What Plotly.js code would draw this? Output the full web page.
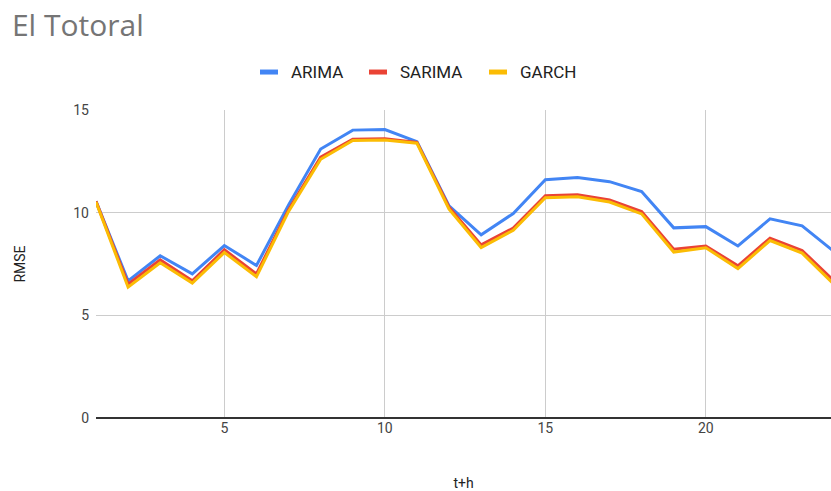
<!DOCTYPE html>
<html>
<head>
<meta charset="utf-8">
<script src="https://cdn.plot.ly/plotly-3.0.1.min.js"></script>
<style>html,body{margin:0;padding:0;background:#fff;}#chart{width:831px;height:491px;}</style>
</head>
<body>
<div id="chart"></div>
<script>
const horizon = [1,2,3,4,5,6,7,8,9,10,11,12,13,14,15,16,17,18,19,20,21,22,23,24];
const arima  = [10.55,6.68,7.90,7.02,8.40,7.43,10.38,13.10,14.02,14.05,13.46,10.33,8.92,9.96,11.60,11.71,11.51,11.03,9.26,9.32,8.38,9.70,9.36,8.10];
const sarima = [10.55,6.52,7.70,6.68,8.19,7.02,10.14,12.70,13.58,13.60,13.42,10.27,8.43,9.25,10.83,10.87,10.62,10.05,8.22,8.38,7.41,8.76,8.16,6.66];
const garch  = [10.52,6.37,7.56,6.57,8.06,6.88,10.06,12.60,13.52,13.54,13.38,10.17,8.30,9.14,10.73,10.78,10.52,9.94,8.08,8.29,7.28,8.64,8.03,6.50];
const seriesNames = ['ARIMA','SARIMA','GARCH'];
const seriesColors = ['#4285F4','#EA4335','#FBBC04'];
const xTicks = [5,10,15,20];
const yTicks = [0,5,10,15];

const data = [arima, sarima, garch].map((ys, i) => ({
  type: 'scatter', mode: 'lines', x: horizon, y: ys, name: seriesNames[i],
  line: {color: seriesColors[i], width: 3}, showlegend: false
}));

// custom legend (short thick swatches like the reference)
const plotL = 96, plotW = 735, plotB = 418.3, plotH = 308.3;
const px = v => (v - plotL) / plotW;
const py = v => (plotB - v) / plotH;
const legendSwatchX = [260, 369, 489];
const legendY = 72;
const shapes = [], annotations = [];
seriesNames.forEach((n, i) => {
  shapes.push({type: 'line', xref: 'paper', yref: 'paper',
    x0: px(legendSwatchX[i]), x1: px(legendSwatchX[i] + 18), y0: py(legendY), y1: py(legendY),
    line: {color: seriesColors[i], width: 5}});
  annotations.push({xref: 'paper', yref: 'paper', x: px(legendSwatchX[i] + 29), y: py(legendY),
    xanchor: 'left', yanchor: 'middle', showarrow: false, text: n,
    font: {family: 'Roboto, Arial, sans-serif', size: 17, color: '#222'}});
});

const layout = {
  width: 831, height: 491,
  margin: {l: 96, r: 0, t: 110, b: 73},
  paper_bgcolor: '#fff', plot_bgcolor: '#fff',
  font: {family: 'Roboto, Arial, sans-serif', size: 13, color: '#222'},
  title: {text: 'El Totoral', x: 0.0144, xanchor: 'left', y: 0.949, yanchor: 'middle',
          font: {family: '"Open Sans", Roboto, sans-serif', size: 30, color: '#757575'}},
  showlegend: false,
  shapes: shapes,
  annotations: annotations,
  xaxis: {range: [1, 23.9], tickvals: xTicks, showgrid: true, gridcolor: '#cccccc', gridwidth: 1,
          zeroline: false, showline: false, ticks: '', ticklen: 0,
          tickfont: {size: 14, color: '#444'},
          title: {text: 't+h', font: {size: 14, color: '#222'}, standoff: 44}},
  yaxis: {range: [0, 15], tickvals: yTicks, showgrid: true, gridcolor: '#cccccc', gridwidth: 1,
          zeroline: true, zerolinecolor: '#333', zerolinewidth: 1.5, showline: false, ticks: '',
          tickfont: {size: 14, color: '#444'}, ticklabelstandoff: 6,
          title: {text: 'RMSE', font: {size: 14, color: '#222'}, standoff: 44}}
};

Plotly.newPlot('chart', data, layout, {displayModeBar: false, staticPlot: true});
</script>
</body>
</html>
